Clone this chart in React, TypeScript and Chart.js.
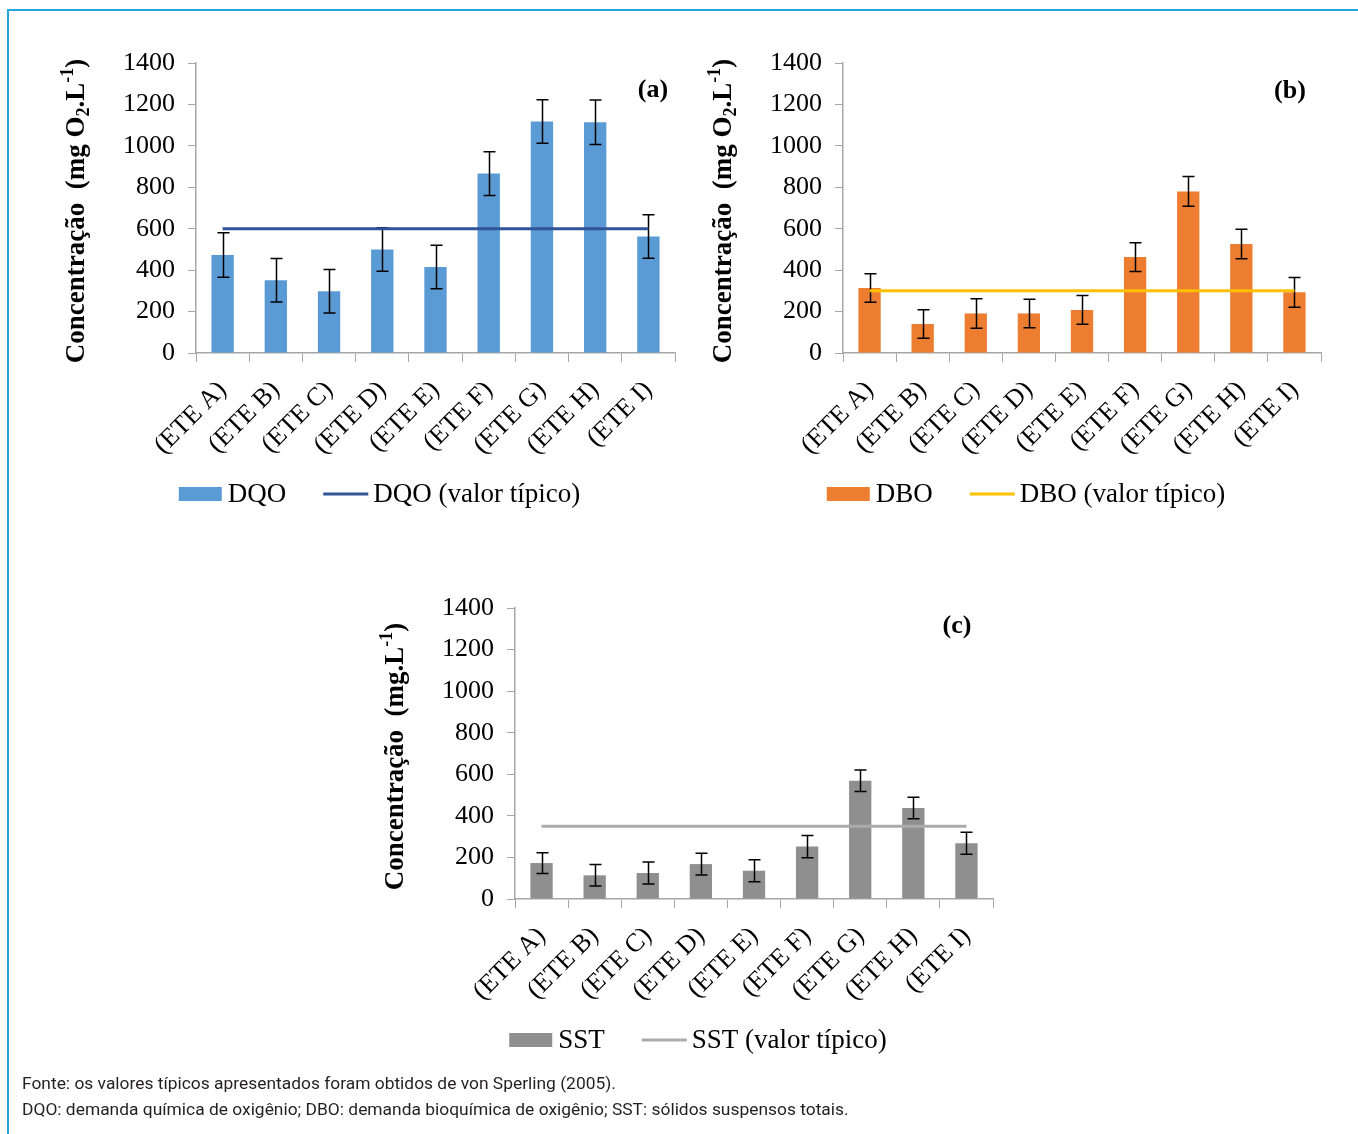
import React, { useEffect, useRef } from "react";
import { Chart, registerables } from "chart.js";

Chart.register(...registerables);

// ---------- data ----------
const categories = ["(ETE A)", "(ETE B)", "(ETE C)", "(ETE D)", "(ETE E)", "(ETE F)", "(ETE G)", "(ETE H)", "(ETE I)"];
const yTicks = [0, 200, 400, 600, 800, 1000, 1200, 1400];

const dqoValues = [473, 351, 298, 500, 415, 866, 1118, 1114, 563];
const dqoErrors = [107, 105, 105, 105, 105, 106, 105, 107, 105];
const dqoTypical = [600, 600, 600, 600, 600, 600, 600, 600, 600];

const dboValues = [314, 140, 191, 191, 208, 463, 780, 526, 293];
const dboErrors = [69, 69, 71, 69, 69, 69, 72, 71, 72];
const dboTypical = [300, 300, 300, 300, 300, 300, 300, 300, 300];

const sstValues = [173, 114, 125, 168, 136, 252, 569, 438, 268];
const sstErrors = [50, 52, 53, 52, 53, 53, 52, 52, 53];
const sstTypical = [350, 350, 350, 350, 350, 350, 350, 350, 350];

const SERIF = "'Liberation Serif', 'Times New Roman', serif";

type Seg = { t: string; k: "n" | "sub" | "sup" };

type Panel = {
  barLabel: string;
  lineLabel: string;
  values: number[];
  errors: number[];
  typical: number[];
  barColor: string;
  lineColor: string;
  title: Seg[];
  letter: string;
  area: { left: number; right: number; top: number; bottom: number };
  letterOffset: [number, number];
};

const titleO2: Seg[] = [
  { t: "Concentração  (mg O", k: "n" },
  { t: "2", k: "sub" },
  { t: ".L", k: "n" },
  { t: "-1", k: "sup" },
  { t: ")", k: "n" },
];
const titleMg: Seg[] = [
  { t: "Concentração  (mg.L", k: "n" },
  { t: "-1", k: "sup" },
  { t: ")", k: "n" },
];

const panels: Panel[] = [
  {
    barLabel: "DQO",
    lineLabel: "DQO (valor típico)",
    values: dqoValues,
    errors: dqoErrors,
    typical: dqoTypical,
    barColor: "#5B9BD5",
    lineColor: "#2F5597",
    title: titleO2,
    letter: "(a)",
    area: { left: 196, right: 675, top: 63, bottom: 353 },
    letterOffset: [-22, 27],
  },
  {
    barLabel: "DBO",
    lineLabel: "DBO (valor típico)",
    values: dboValues,
    errors: dboErrors,
    typical: dboTypical,
    barColor: "#ED7D31",
    lineColor: "#FFC000",
    title: titleO2,
    letter: "(b)",
    area: { left: 843, right: 1321, top: 63, bottom: 353 },
    letterOffset: [-31, 28],
  },
  {
    barLabel: "SST",
    lineLabel: "SST (valor típico)",
    values: sstValues,
    errors: sstErrors,
    typical: sstTypical,
    barColor: "#8F8F8F",
    lineColor: "#ABABAB",
    title: titleMg,
    letter: "(c)",
    area: { left: 515, right: 993, top: 608, bottom: 899 },
    letterOffset: [-36, 18],
  },
];

const PAD_LEFT = 166;
const PAD_RIGHT = 25;
const PAD_TOP = 33;
const CANVAS_H = 500;

const errorBarPlugin = {
  id: "errorBars",
  afterDatasetDraw(chart: any, args: any) {
    const ds: any = chart.data.datasets[args.index];
    const errs: number[] | undefined = ds.errorBars;
    if (!errs) return;
    const ctx = chart.ctx;
    const ys = chart.scales.y;
    const meta = chart.getDatasetMeta(args.index);
    ctx.save();
    ctx.strokeStyle = "#000";
    ctx.lineWidth = 1.5;
    meta.data.forEach((el: any, j: number) => {
      const v = ds.data[j] as number;
      const e = errs[j];
      const x = Math.round(el.x) + 0.5;
      const yt = ys.getPixelForValue(v + e);
      const yb = ys.getPixelForValue(v - e);
      ctx.beginPath();
      ctx.moveTo(x, yt);
      ctx.lineTo(x, yb);
      ctx.moveTo(x - 6, yt);
      ctx.lineTo(x + 6, yt);
      ctx.moveTo(x - 6, yb);
      ctx.lineTo(x + 6, yb);
      ctx.stroke();
    });
    ctx.restore();
  },
};

const decorPlugin = {
  id: "decor",
  afterDraw(chart: any, _args: any, opts: any) {
    const ctx: CanvasRenderingContext2D = chart.ctx;
    const ca = chart.chartArea;
    const panel: Panel = opts.panel;

    // y axis title with sub/superscripts
    ctx.save();
    const cx = ca.left - 121;
    const cy = (ca.top + ca.bottom) / 2 + 3;
    ctx.translate(cx, cy);
    ctx.rotate(-Math.PI / 2);
    const fontFor = (k: string) => (k === "n" ? `bold 27px ${SERIF}` : `bold 18px ${SERIF}`);
    let total = 0;
    panel.title.forEach((s) => {
      ctx.font = fontFor(s.k);
      total += ctx.measureText(s.t).width;
    });
    let x = -total / 2;
    ctx.fillStyle = "#000";
    ctx.textBaseline = "alphabetic";
    ctx.textAlign = "left";
    panel.title.forEach((s) => {
      ctx.font = fontFor(s.k);
      const dy = s.k === "sub" ? 5 : s.k === "sup" ? -11 : 0;
      ctx.fillText(s.t, x, 9 + dy);
      x += ctx.measureText(s.t).width;
    });
    ctx.restore();

    // panel letter
    ctx.save();
    ctx.font = `bold 26px ${SERIF}`;
    ctx.fillStyle = "#000";
    ctx.textAlign = "center";
    ctx.textBaseline = "middle";
    ctx.fillText(panel.letter, ca.right + panel.letterOffset[0], ca.top + panel.letterOffset[1]);
    ctx.restore();

    // legend
    ctx.save();
    const bar = chart.data.datasets.find((d: any) => d.type === "bar");
    const line = chart.data.datasets.find((d: any) => d.type === "line");
    ctx.font = `27px ${SERIF}`;
    const w1 = ctx.measureText(bar.label).width;
    const w2 = ctx.measureText(line.label).width;
    const tot = 43 + 6 + w1 + 37 + 45 + 5 + w2;
    let lx = (ca.left + ca.right) / 2 - 56 - tot / 2;
    const yc = ca.bottom + 141;
    ctx.fillStyle = bar.backgroundColor;
    ctx.fillRect(lx, yc - 7, 43, 14);
    lx += 49;
    ctx.fillStyle = "#000";
    ctx.textBaseline = "middle";
    ctx.textAlign = "left";
    ctx.fillText(bar.label, lx, yc + 1);
    lx += w1 + 37;
    ctx.strokeStyle = line.borderColor;
    ctx.lineWidth = 3;
    ctx.beginPath();
    ctx.moveTo(lx, yc);
    ctx.lineTo(lx + 45, yc);
    ctx.stroke();
    lx += 50;
    ctx.fillText(line.label, lx, yc + 1);
    ctx.restore();
  },
};

function ChartPanel({ panel }: { panel: Panel }) {
  const ref = useRef<HTMLCanvasElement | null>(null);
  const areaW = panel.area.right - panel.area.left;
  const areaH = panel.area.bottom - panel.area.top;
  const width = areaW + PAD_LEFT + PAD_RIGHT;
  const left = panel.area.left - PAD_LEFT;
  const top = panel.area.top - PAD_TOP;
  const xHeight = CANVAS_H - PAD_TOP - areaH;

  useEffect(() => {
    if (!ref.current) return;
    const chart = new Chart(ref.current, {
      type: "bar",
      data: {
        labels: categories,
        datasets: [
          {
            type: "line",
            label: panel.lineLabel,
            data: panel.typical,
            borderColor: panel.lineColor,
            backgroundColor: panel.lineColor,
            borderWidth: 3,
            pointRadius: 0,
            fill: false,
            order: 0,
          } as any,
          {
            type: "bar",
            label: panel.barLabel,
            data: panel.values,
            backgroundColor: panel.barColor,
            borderWidth: 0,
            barPercentage: 0.42,
            categoryPercentage: 1,
            order: 1,
            errorBars: panel.errors,
          } as any,
        ],
      },
      options: {
        responsive: false,
        animation: false,
        devicePixelRatio: 1,
        layout: { padding: { left: 0, right: PAD_RIGHT, top: PAD_TOP, bottom: 0 } },
        plugins: {
          legend: { display: false },
          tooltip: { enabled: false },
          decor: { panel },
        } as any,
        scales: {
          x: {
            offset: true,
            grid: {
              offset: true,
              drawOnChartArea: false,
              drawTicks: true,
              tickLength: 9,
              color: "#A6A6A6",
            },
            border: { display: true, color: "#A6A6A6", width: 1.5 },
            ticks: {
              autoSkip: false,
              minRotation: 45,
              maxRotation: 45,
              padding: 13,
              color: "#000",
              font: { family: SERIF, size: 26 },
            },
            afterFit: (s: any) => {
              s.height = xHeight;
            },
          },
          y: {
            min: 0,
            max: 1400,
            afterBuildTicks: (s: any) => {
              s.ticks = yTicks.map((v) => ({ value: v }));
            },
            grid: {
              drawOnChartArea: false,
              drawTicks: true,
              tickLength: 8,
              color: "#A6A6A6",
            },
            border: { display: true, color: "#A6A6A6", width: 1.5 },
            ticks: {
              padding: 13,
              color: "#000",
              font: { family: SERIF, size: 26 },
              callback: (v: any) => String(v),
            },
            afterFit: (s: any) => {
              s.width = PAD_LEFT;
            },
          },
        },
      },
      plugins: [errorBarPlugin, decorPlugin],
    });
    return () => chart.destroy();
  }, []);

  return (
    <canvas
      ref={ref}
      width={width}
      height={CANVAS_H}
      style={{ position: "absolute", left, top, width, height: CANVAS_H }}
    />
  );
}

export default function App() {
  return (
    <div
      style={{
        position: "absolute",
        left: 0,
        top: 0,
        width: 1358,
        height: 1134,
        background: "#fff",
        overflow: "hidden",
      }}
    >
      <div
        style={{
          position: "absolute",
          left: 7,
          top: 9,
          right: -4,
          bottom: -4,
          borderTop: "2px solid #27A6DE",
          borderLeft: "2px solid #27A6DE",
        }}
      />
      {panels.map((p, i) => (
        <ChartPanel key={i} panel={p} />
      ))}
      <div
        style={{
          position: "absolute",
          left: 22,
          top: 1070,
          fontFamily: "Roboto, 'Open Sans', sans-serif",
          fontSize: 17.4,
          color: "#231F20",
          lineHeight: "26px",
          whiteSpace: "nowrap",
        }}
      >
        <div>Fonte: os valores típicos apresentados foram obtidos de von Sperling (2005).</div>
        <div>DQO: demanda química de oxigênio; DBO: demanda bioquímica de oxigênio; SST: sólidos suspensos totais.</div>
      </div>
    </div>
  );
}
